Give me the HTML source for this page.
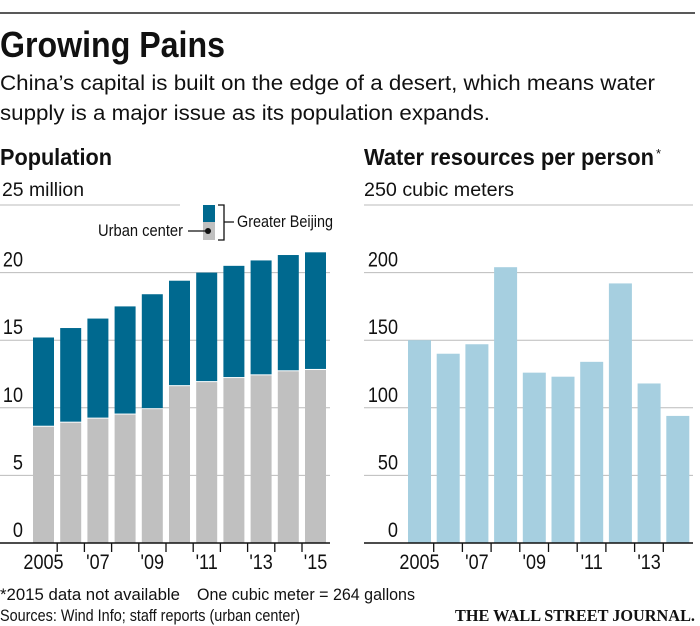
<!DOCTYPE html>
<html><head><meta charset="utf-8"><style>
html,body{margin:0;padding:0;background:#fff}
svg{display:block}
text{font-family:"Liberation Sans Narrow","Liberation Sans",sans-serif;fill:#111}
</style></head><body>
<svg id="chart" width="700" height="626" viewBox="0 0 700 626">
<line x1="0" y1="13" x2="695" y2="13" stroke="#222" stroke-width="1.5"/>
<text x="0" y="57" font-size="36" font-weight="bold" textLength="225" lengthAdjust="spacingAndGlyphs">Growing Pains</text>
<text x="0" y="90" font-size="21" textLength="655" lengthAdjust="spacingAndGlyphs">China’s capital is built on the edge of a desert, which means water</text>
<text x="0" y="120" font-size="21" textLength="490" lengthAdjust="spacingAndGlyphs">supply is a major issue as its population expands.</text>
<text x="0" y="165" font-size="23" font-weight="bold" textLength="112" lengthAdjust="spacingAndGlyphs">Population</text>
<text x="364" y="165" font-size="23" font-weight="bold" textLength="290" lengthAdjust="spacingAndGlyphs">Water resources per person</text>
<text x="656" y="158" font-size="13">*</text>
<text x="2" y="196" font-size="19" textLength="82" lengthAdjust="spacingAndGlyphs">25 million</text>
<text x="364" y="196" font-size="19" textLength="150" lengthAdjust="spacingAndGlyphs">250 cubic meters</text>
<g id="left"></g>
<g id="right"></g>
<g>
<rect x="203" y="205" width="12" height="17" fill="#00698f"/>
<rect x="203" y="222" width="12" height="18" fill="#c0c0c0"/>
<path d="M218,205 H224 V240 H218 M224,222 H234" stroke="#111" stroke-width="1.3" fill="none"/>
<text x="237" y="227" font-size="17" textLength="96" lengthAdjust="spacingAndGlyphs">Greater Beijing</text>
<text x="98" y="236" font-size="17" textLength="85" lengthAdjust="spacingAndGlyphs">Urban center</text>
<line x1="188" y1="231" x2="208" y2="231" stroke="#111" stroke-width="1.3"/>
<circle cx="208" cy="231" r="3" fill="#111"/>
</g>
<text x="0" y="600" font-size="17" textLength="180" lengthAdjust="spacingAndGlyphs">*2015 data not available</text>
<text x="197" y="600" font-size="17" textLength="218" lengthAdjust="spacingAndGlyphs">One cubic meter = 264 gallons</text>
<text x="0" y="621" font-size="17" textLength="300" lengthAdjust="spacingAndGlyphs">Sources: Wind Info; staff reports (urban center)</text>
<text x="695" y="621" font-size="17" font-weight="bold" text-anchor="end" textLength="240" lengthAdjust="spacingAndGlyphs" style="font-family:'Liberation Serif',serif">THE WALL STREET JOURNAL.</text>
</svg>
<script>
const popYears = ["2005","'06","'07","'08","'09","'10","'11","'12","'13","'14","'15"];
const popTotal = [15.2,15.9,16.6,17.5,18.4,19.4,20.0,20.5,20.9,21.3,21.5];
const popUrban = [8.6,8.9,9.2,9.5,9.9,11.6,11.9,12.2,12.4,12.7,12.8];
const popTicks = [0,5,10,15,20,25];
const popLabels = ["2005","","'07","","'09","","'11","","'13","","'15"];
const waterYears = ["2005","'06","'07","'08","'09","'10","'11","'12","'13","'14"];
const waterValues = [150,140,147,204,126,123,134,192,118,94];
const waterTicks = [0,50,100,150,200,250];
const waterLabels = ["2005","","'07","","'09","","'11","","'13",""];

const NS="http://www.w3.org/2000/svg";
function mk(parent,tag,attrs){const e=document.createElementNS(NS,tag);for(const k in attrs)e.setAttribute(k,attrs[k]);parent.appendChild(e);return e;}
function condense(t){const w=t.getComputedTextLength();if(w>0){t.setAttribute('textLength',(w*0.86).toFixed(1));t.setAttribute('lengthAdjust','spacingAndGlyphs');}}
const base=543, top25=205;

// left chart
const L=document.getElementById('left');
const ly=v=>base-(base-top25)*v/25;
const lx0=33, lstep=27.2, lw=21;
popTicks.forEach(t=>{
  if(t>0){const g=mk(L,'line',{x1:0,x2:t===25?180:330,y1:ly(t),y2:ly(t),stroke:'#bbb','stroke-width':1});
  
  }
  if(t<25){const tx=mk(L,'text',{x:23,y:ly(t)-6,'font-size':21,'text-anchor':'end'});tx.textContent=t;
  
  condense(tx);}
});
popYears.forEach((y,i)=>{
  const x=lx0+i*lstep;
  const u=mk(L,'rect',{x:x,y:ly(popUrban[i]),width:lw,height:base-ly(popUrban[i]),fill:'#c0c0c0'});
  
  
  const g=mk(L,'rect',{x:x,y:ly(popTotal[i]),width:lw,height:ly(popUrban[i])-ly(popTotal[i])-1,fill:'#00698f'});
  
  
  if(i>0){const tk=mk(L,'line',{x1:x-3,x2:x-3,y1:base,y2:base+9,stroke:'#111','stroke-width':1.3});
  
  }
  if(popLabels[i]){const t=mk(L,'text',{x:x+lw/2,y:base+26,'font-size':21,'text-anchor':'middle'});t.textContent=popLabels[i];
  
  condense(t);}
});
const la=mk(L,'line',{x1:0,x2:330,y1:base,y2:base,stroke:'#111','stroke-width':1.5});



// right chart
const R=document.getElementById('right');
const ry=v=>base-(base-top25)*v/250;
const rx0=408, rstep=28.7, rw=23;
waterTicks.forEach(t=>{
  if(t>0){const g=mk(R,'line',{x1:364,x2:693,y1:ry(t),y2:ry(t),stroke:'#bbb','stroke-width':1});
  
  }
  if(t<250){const tx=mk(R,'text',{x:398,y:ry(t)-6,'font-size':21,'text-anchor':'end'});tx.textContent=t;
  
  condense(tx);}
});
waterYears.forEach((y,i)=>{
  const x=rx0+i*rstep;
  const b=mk(R,'rect',{x:x,y:ry(waterValues[i]),width:rw,height:base-ry(waterValues[i]),fill:'#a6cfe0'});
  
  
  if(i>0){const tk=mk(R,'line',{x1:x-3,x2:x-3,y1:base,y2:base+9,stroke:'#111','stroke-width':1.3});
  
  }
  if(waterLabels[i]){const t=mk(R,'text',{x:x+rw/2,y:base+26,'font-size':21,'text-anchor':'middle'});t.textContent=waterLabels[i];
  
  condense(t);}
});
const ra=mk(R,'line',{x1:364,x2:693,y1:base,y2:base,stroke:'#111','stroke-width':1.5});


</script>
</body></html>
